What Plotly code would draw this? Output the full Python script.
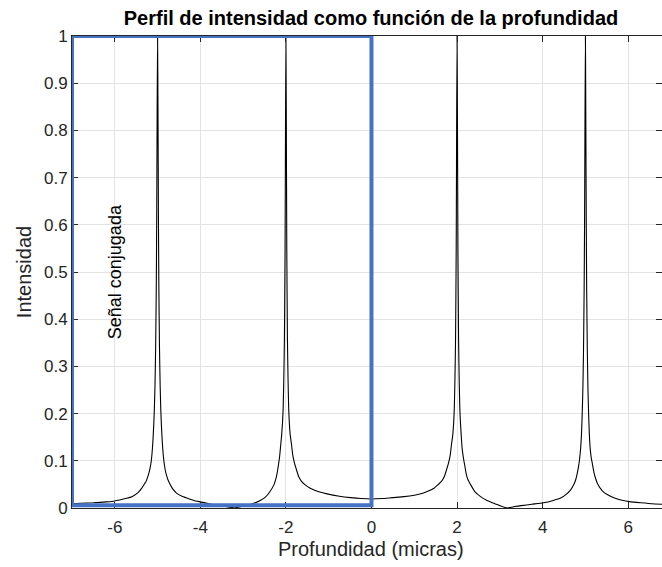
import plotly.graph_objects as go

# Depth (microns) and normalized intensity samples of the profile
profundidad = [
    # tail and peak at -5
    -7.00, -6.80, -6.50, -6.20, -6.00, -5.80, -5.60, -5.45, -5.37, -5.30,
    -5.26, -5.23, -5.20, -5.17, -5.15, -5.13, -5.11, -5.09, -5.075, -5.06,
    -5.045, -5.03, -5.02, -5.01, -5.00, -4.99, -4.98, -4.97, -4.955, -4.94,
    -4.925, -4.91, -4.89, -4.87, -4.85, -4.82, -4.78, -4.74, -4.65, -4.55,
    -4.43, -4.31, -4.15, -4.00, -3.80, -3.60, -3.40, -3.20,
    # valley and peak at -2
    -3.05, -2.90, -2.75, -2.60, -2.48, -2.38, -2.28, -2.24, -2.21, -2.18,
    -2.15, -2.12, -2.10, -2.08, -2.065, -2.05, -2.035, -2.02, -2.01, -2.00,
    -1.99, -1.98, -1.965, -1.95, -1.935, -1.92, -1.90, -1.87, -1.84, -1.80,
    -1.75, -1.70, -1.64, -1.55, -1.43, -1.25, -1.04, -0.75, -0.49, -0.25,
    0.00,
    # peak at 2
    0.25, 0.49, 0.76, 1.00, 1.15, 1.30, 1.46, 1.55, 1.64, 1.70,
    1.75, 1.80, 1.84, 1.87, 1.90, 1.92, 1.935, 1.95, 1.965, 1.98,
    1.99, 2.00, 2.01, 2.02, 2.035, 2.05, 2.065, 2.08, 2.10, 2.12,
    2.15, 2.18, 2.21, 2.25, 2.32, 2.42, 2.55, 2.70, 2.86, 3.00,
    3.17,
    # valley and peak at 5
    3.35, 3.50, 3.75, 4.02, 4.25, 4.42, 4.55, 4.65, 4.74, 4.78,
    4.81, 4.84, 4.865, 4.89, 4.91, 4.925, 4.94, 4.955, 4.97, 4.98,
    4.99, 5.00, 5.01, 5.02, 5.03, 5.045, 5.06, 5.075, 5.09, 5.11,
    5.135, 5.16, 5.20, 5.24, 5.28, 5.40, 5.52, 5.68, 5.83, 6.06,
    6.30, 6.55, 6.79,
]

intensidad = [
    # tail and peak at -5
    0.009, 0.010, 0.011, 0.013, 0.015, 0.019, 0.024, 0.033, 0.042, 0.052,
    0.058, 0.066, 0.075, 0.087, 0.098, 0.115, 0.140, 0.175, 0.210, 0.260,
    0.340, 0.470, 0.620, 0.840, 1.000, 0.840, 0.620, 0.470, 0.340, 0.260,
    0.210, 0.175, 0.140, 0.115, 0.098, 0.080, 0.066, 0.056, 0.041, 0.031,
    0.025, 0.021, 0.016, 0.013, 0.009, 0.006, 0.003, 0.000,
    # valley and peak at -2
    0.003, 0.006, 0.010, 0.016, 0.023, 0.034, 0.049, 0.060, 0.072, 0.088,
    0.107, 0.135, 0.155, 0.180, 0.210, 0.270, 0.360, 0.550, 0.800, 1.000,
    0.800, 0.550, 0.360, 0.270, 0.210, 0.180, 0.155, 0.135, 0.112, 0.095,
    0.080, 0.066, 0.057, 0.049, 0.042, 0.035, 0.030, 0.025, 0.022, 0.020,
    0.019,
    # peak at 2
    0.020, 0.022, 0.024, 0.027, 0.030, 0.035, 0.042, 0.049, 0.057, 0.066,
    0.080, 0.095, 0.112, 0.135, 0.155, 0.180, 0.210, 0.270, 0.360, 0.550,
    0.800, 1.000, 0.800, 0.550, 0.360, 0.270, 0.210, 0.180, 0.150, 0.125,
    0.105, 0.090, 0.074, 0.061, 0.049, 0.034, 0.024, 0.016, 0.010, 0.005,
    0.000,
    # valley and peak at 5
    0.003, 0.005, 0.008, 0.011, 0.016, 0.021, 0.029, 0.038, 0.052, 0.062,
    0.074, 0.088, 0.105, 0.128, 0.160, 0.200, 0.250, 0.330, 0.460, 0.600,
    0.820, 1.000, 0.820, 0.600, 0.460, 0.330, 0.250, 0.200, 0.160, 0.128,
    0.107, 0.095, 0.075, 0.062, 0.052, 0.036, 0.028, 0.021, 0.017, 0.013,
    0.011, 0.009, 0.008,
]

x_ticks = [-6, -4, -2, 0, 2, 4, 6]
y_ticks = [0, 0.1, 0.2, 0.3, 0.4, 0.5, 0.6, 0.7, 0.8, 0.9, 1]
y_labels = ["0", "0.1", "0.2", "0.3", "0.4", "0.5", "0.6", "0.7", "0.8", "0.9", "1"]

# Region highlighted as the conjugate signal
zona_x = [-7, 0]
zona_y = [0.006, 1]

FONT = "Liberation Sans, Arial, Helvetica, sans-serif"
AXIS_COLOR = "#262626"
GRID_COLOR = "#e3e3e3"

fig = go.Figure()
fig.add_trace(go.Scatter(
    x=profundidad, y=intensidad, mode="lines",
    line=dict(color="black", width=1.1, shape="spline", smoothing=0.4),
    hoverinfo="x+y", showlegend=False,
))

fig.add_shape(
    type="rect", xref="x", yref="y",
    x0=zona_x[0], x1=zona_x[1], y0=zona_y[0], y1=zona_y[1],
    line=dict(color="#4472C4", width=4), layer="above",
)

fig.add_annotation(
    x=-5.99, y=0.5, xref="x", yref="y",
    text="Señal conjugada", textangle=-90, showarrow=False,
    font=dict(family=FONT, size=18, color="black"),
)

# x-axis label, centred on depth 0 (middle of the full -7..7 axis)
fig.add_annotation(
    x=0, y=-41 / 472, xref="x", yref="paper",
    text="Profundidad (micras)", showarrow=False,
    xanchor="center", yanchor="middle",
    font=dict(family=FONT, size=20, color=AXIS_COLOR),
)

axis_common = dict(
    showline=True, linecolor=AXIS_COLOR, linewidth=1, mirror="ticks",
    ticks="inside", ticklen=6, tickcolor=AXIS_COLOR, tickwidth=1,
    showgrid=True, gridcolor=GRID_COLOR, gridwidth=1, zeroline=False,
    tickfont=dict(family=FONT, size=17, color=AXIS_COLOR),
)

fig.update_xaxes(
    range=[-7, 6.79], tickvals=x_ticks, ticktext=[str(v) for v in x_ticks],
    ticklabelstandoff=4,
    **axis_common,
)
fig.update_yaxes(
    range=[0, 1], tickvals=y_ticks, ticktext=y_labels,
    title=dict(text="Intensidad", standoff=6,
               font=dict(family=FONT, size=20, color=AXIS_COLOR)),
    **axis_common,
)

fig.update_layout(
    width=662, height=567,
    margin=dict(l=72, r=0, t=36, b=59),
    paper_bgcolor="white", plot_bgcolor="white",
    title=dict(
        text="<b>Perfil de intensidad como función de la profundidad</b>",
        x=371 / 662, xref="container", xanchor="center",
        y=1 - 18 / 567, yref="container", yanchor="middle",
        font=dict(family=FONT, size=20, color="black"),
    ),
)

fig.write_html("out.html")
